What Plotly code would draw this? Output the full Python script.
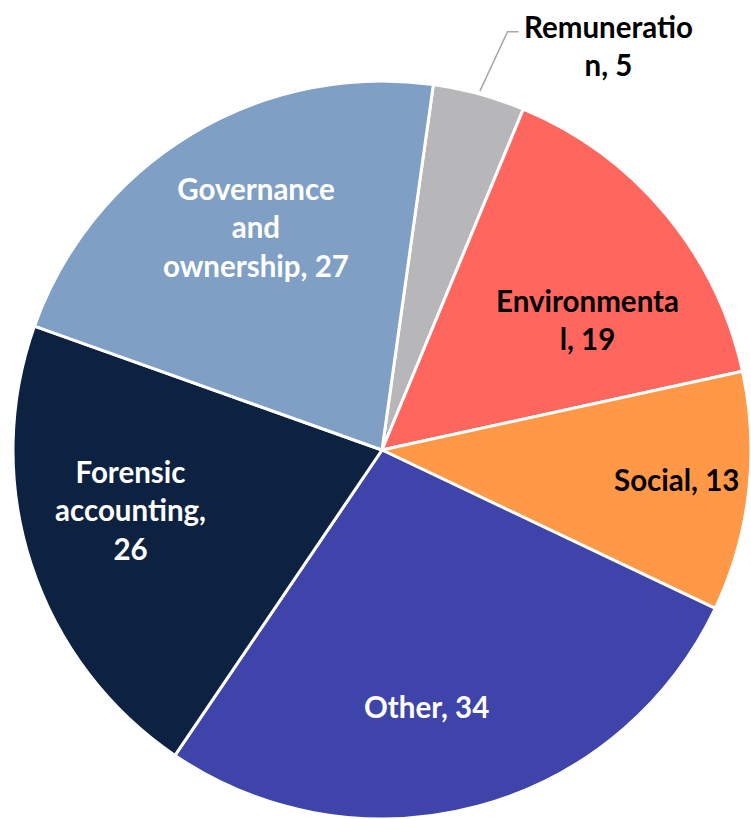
import math
import plotly.graph_objects as go

# ---- data ----
labels = ["Remuneration", "Environmental", "Social", "Other",
          "Forensic accounting", "Governance and ownership"]
values = [5, 19, 13, 34, 26, 27]
# label text as wrapped in the original chart
wrapped_labels = ["Remuneratio<br>n", "Environmenta<br>l", "Social", "Other",
                  "Forensic<br>accounting", "Governance<br>and<br>ownership"]
label_sep = [", ", ", ", ", ", ", ", ",<br>", ", "]
colors = ["#B7B7B9", "#FF665E", "#FF9947", "#3E44AA", "#0D2241", "#7FA0C4"]
text_colors = ["#000000", "#000000", "#000000", "#FFFFFF", "#FFFFFF", "#FFFFFF"]

# ---- layout / style ----
W, H = 751, 819
rotation = 8.0
dom_x = [13 / W, 1.0]
dom_y = [0.0, 738 / H]
cx = (dom_x[0] + dom_x[1]) / 2 * W
cy = H - (dom_y[0] + dom_y[1]) / 2 * H
R = min((dom_x[1] - dom_x[0]) * W, (dom_y[1] - dom_y[0]) * H) / 2

# label placement (radius fraction, angle offset from slice mid)
label_r = [1.256, 0.661, 0.803, 0.706, 0.701, 0.693]
label_dang = [14.0, 7.5, -0.9, 5.5, 4.8, 1.7]
font_family = "Lato"
font_size = 29.5

fig = go.Figure(go.Pie(
    labels=labels,
    values=values,
    sort=False,
    direction="clockwise",
    rotation=rotation,
    textinfo="none",
    hoverinfo="label+value",
    marker=dict(colors=colors, line=dict(color="#FFFFFF", width=3)),
    domain=dict(x=dom_x, y=dom_y),
    showlegend=False,
))


def to_paper(px, py):
    return px / W, 1 - py / H


total = sum(values)
start = rotation
annotations = []
shapes = []
for i, v in enumerate(values):
    span = v / total * 360
    mid = start + span / 2
    start += span
    a = math.radians(mid + label_dang[i])
    px = cx + R * label_r[i] * math.sin(a)
    py = cy - R * label_r[i] * math.cos(a)
    x, y = to_paper(px, py)
    annotations.append(dict(
        x=x, y=y, xref="paper", yref="paper",
        text=f"{wrapped_labels[i]}{label_sep[i]}{v}",
        showarrow=False, xanchor="center", yanchor="middle", align="center",
        font=dict(family=font_family, size=font_size, color=text_colors[i], weight="bold"),
    ))
    if label_r[i] > 1:
        # leader line from slice edge to outside label
        am = math.radians(mid)
        sx, sy = cx + (R + 3) * math.sin(am), cy - (R + 3) * math.cos(am)
        ex, ey = px - 90, py - 14
        bx, by = ex - 11, ey
        p0, p1, p2 = to_paper(sx, sy), to_paper(bx, by), to_paper(ex, ey)
        shapes.append(dict(
            type="path", xref="paper", yref="paper",
            path=f"M {p0[0]} {p0[1]} L {p1[0]} {p1[1]} L {p2[0]} {p2[1]}",
            line=dict(color="#A6A6A6", width=1.5),
        ))

fig.update_layout(
    width=W, height=H,
    margin=dict(l=0, r=0, t=0, b=0),
    paper_bgcolor="#FFFFFF",
    plot_bgcolor="#FFFFFF",
    annotations=annotations,
    shapes=shapes,
)

fig.write_html("out.html")
